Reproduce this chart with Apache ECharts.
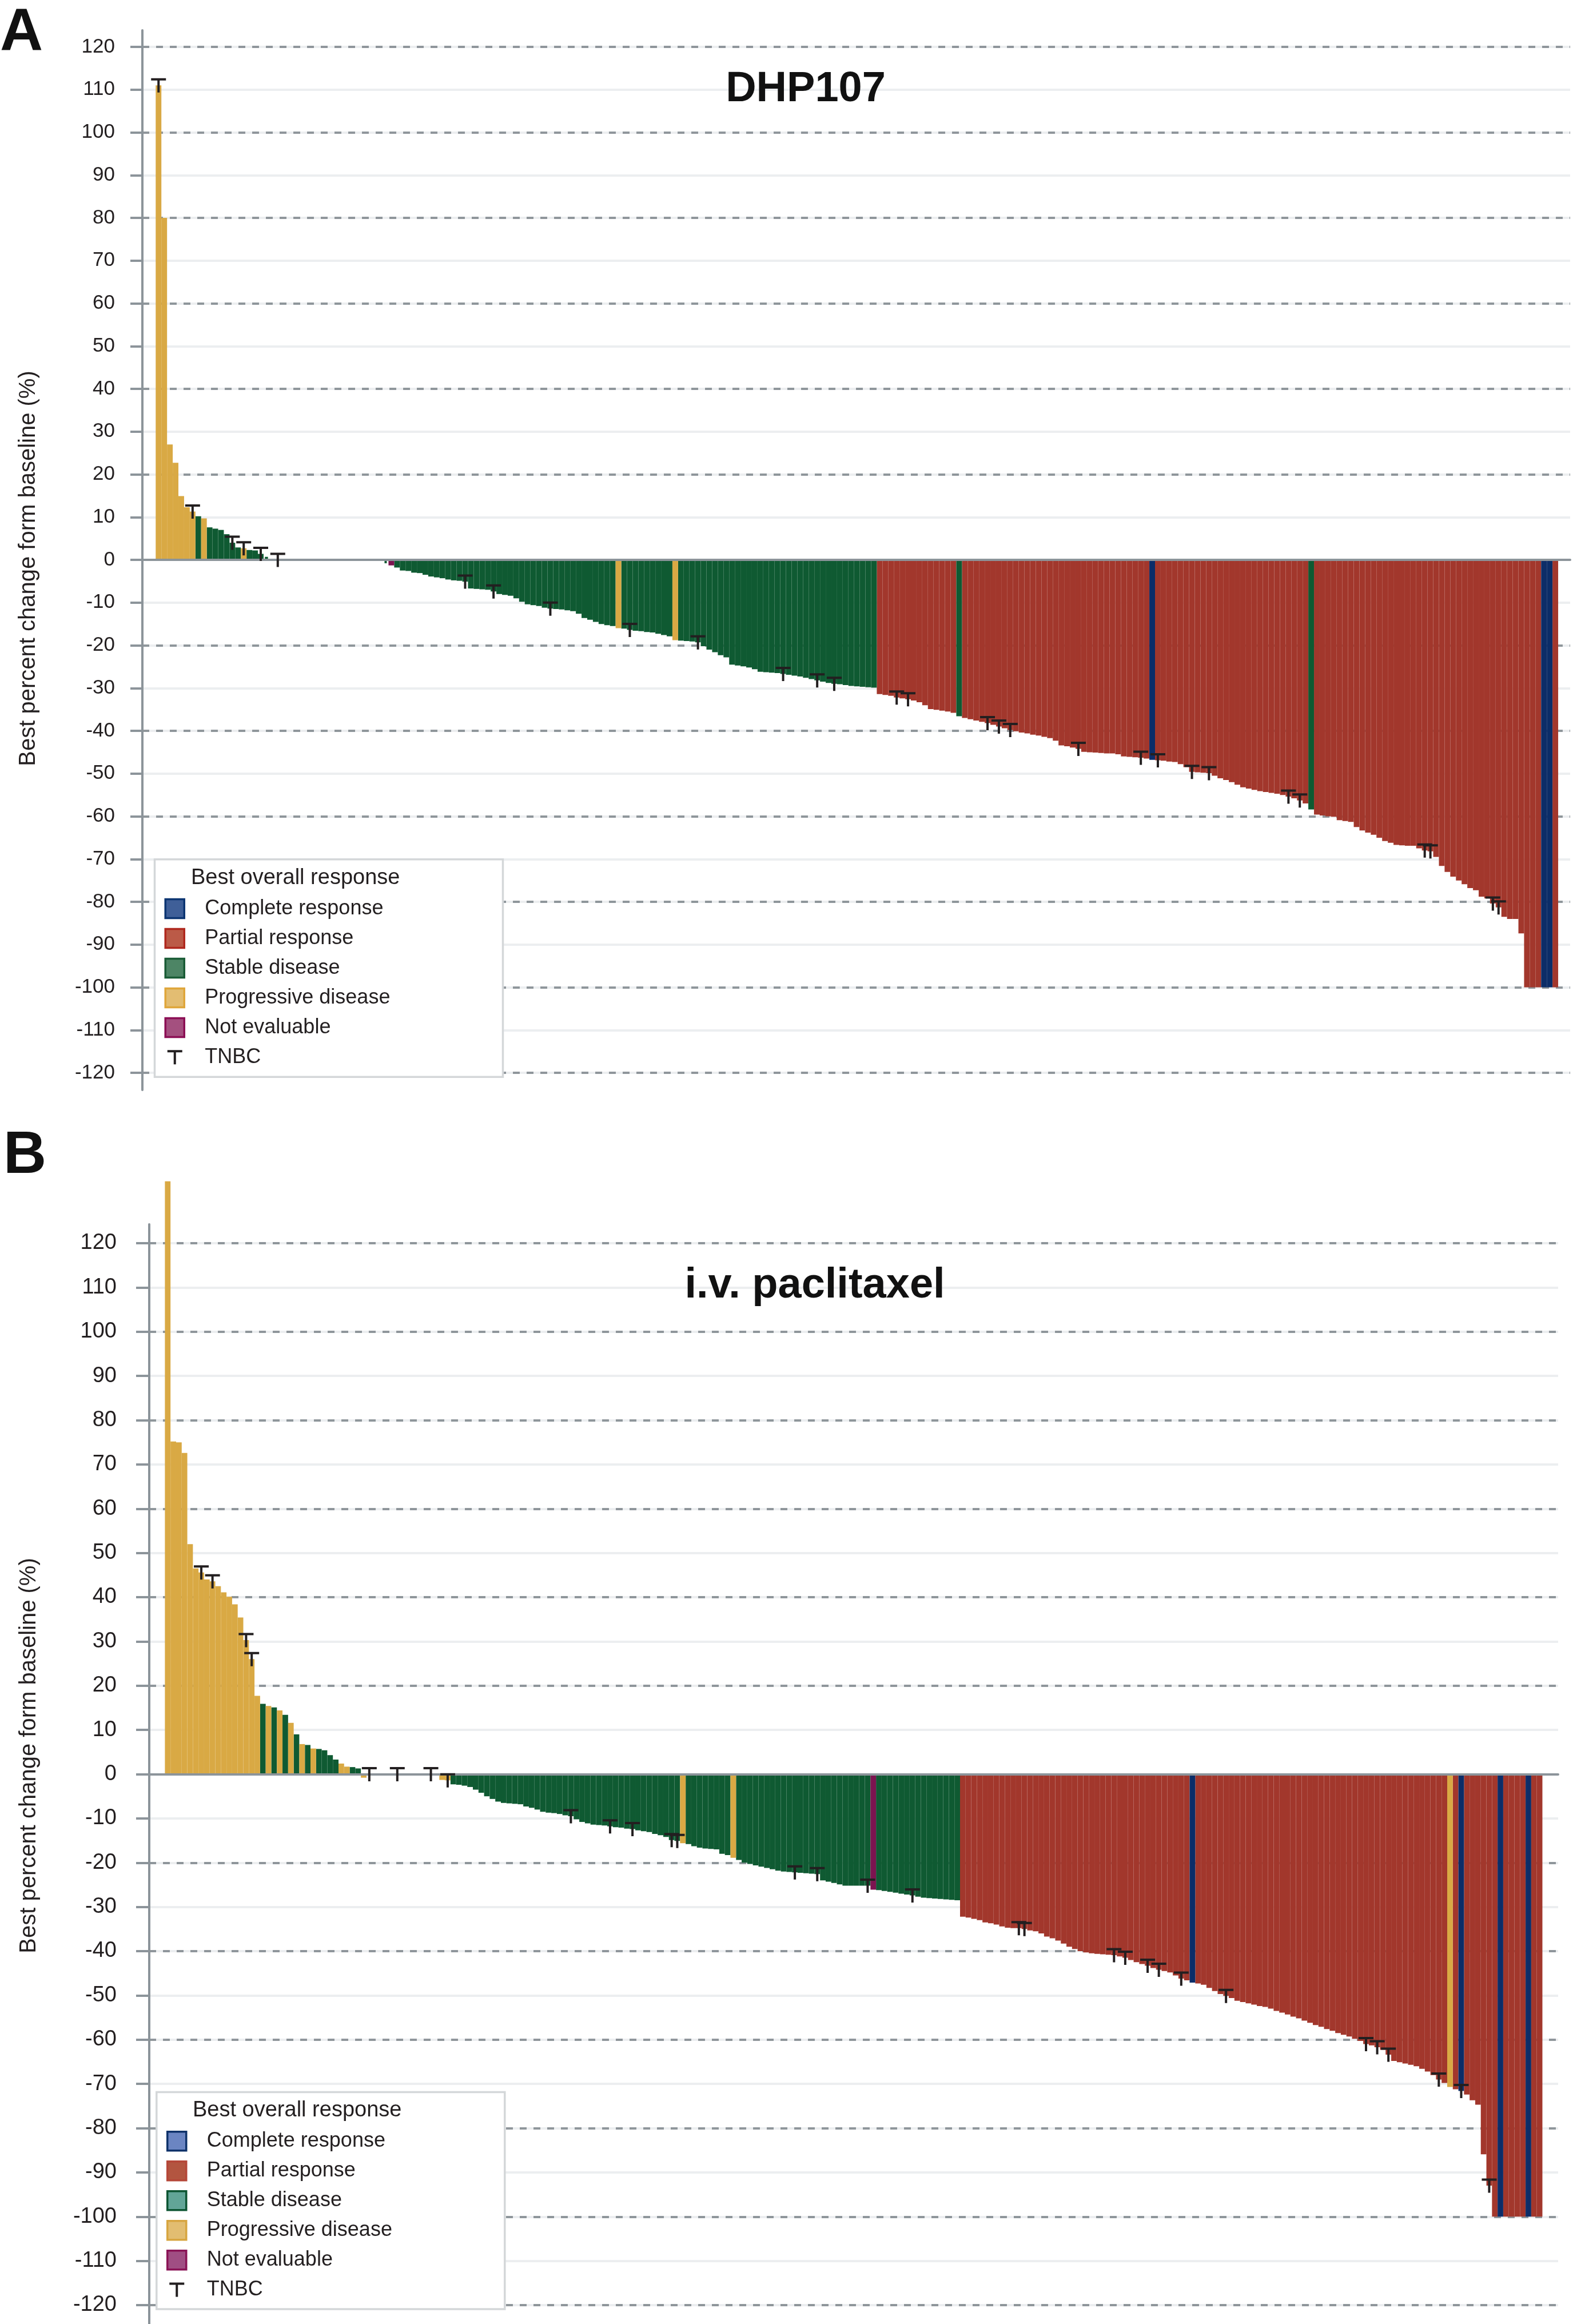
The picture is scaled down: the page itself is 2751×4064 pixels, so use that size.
<!DOCTYPE html>
<html>
<head>
<meta charset="utf-8">
<title>Best percent change from baseline</title>
<script src="https://cdn.jsdelivr.net/npm/echarts@6/dist/echarts.min.js"></script>
<style>
  html, body { margin: 0; padding: 0; background: #fff; }
  #waterfall { width: 2751px; height: 4064px; }
</style>
</head>
<body>
<div id="waterfall"></div>
<script>
// legend order of the response classes
var responseNames = ['Complete response', 'Partial response', 'Stable disease', 'Progressive disease', 'Not evaluable'];
var responseCodes = ['CR', 'PR', 'SD', 'PD', 'NE'];

// A: DHP107, best percent change per patient (sorted)
var dhpValues = [
  111, 80, 27.0, 22.7, 14.9, 12.3, 11.3, 10.2, 9.7, 7.6,
  7.3, 7.0, 6.0, 4.0, 2.9, 2.7, 2.3, 2.2, 1.4, 0.6,
  0, 0, 0, 0, 0, 0, 0, 0, 0, 0,
  0, 0, 0, 0, 0, 0, 0, 0, 0, 0,
  -0.8, -1.3, -1.8, -2.5, -2.6, -3.0, -3.1, -3.5, -3.9, -4.1,
  -4.3, -4.6, -4.8, -4.9, -5.1, -6.7, -6.8, -6.9, -7.0, -7.4,
  -8.0, -8.2, -8.4, -9.0, -9.8, -10.4, -10.6, -10.8, -11.2, -11.4,
  -11.5, -11.6, -11.8, -12.0, -12.6, -13.6, -14.0, -14.5, -15.0, -15.3,
  -15.5, -16.0, -16.1, -16.4, -16.6, -16.7, -16.9, -17.0, -17.3, -17.6,
  -17.9, -18.8, -18.9, -19.0, -19.1, -19.3, -20.2, -21.0, -21.6, -22.3,
  -22.8, -24.5, -24.7, -24.9, -25.2, -25.6, -26.2, -26.3, -26.4, -26.5,
  -26.7, -26.9, -27.1, -27.3, -27.6, -27.9, -28.2, -28.5, -28.8, -29.0,
  -29.1, -29.3, -29.5, -29.6, -29.7, -29.8, -29.9,
  -31.4, -31.6, -31.8,
  -32.2, -32.4, -32.6, -32.9, -33.3, -34.0, -34.9, -35.1, -35.3, -35.5,
  -35.8, -36.6, -37.0, -37.3, -37.6, -37.9, -38.2, -38.6, -39.0, -39.4,
  -39.8, -40.1, -40.4, -40.6, -40.9, -41.1, -41.4, -41.7, -42.3, -43.4,
  -43.6, -43.9, -44.2, -44.9, -45.0, -45.1, -45.2, -45.3, -45.3, -45.5,
  -46.0, -46.1, -46.2, -46.3, -46.5, -46.8, -46.9, -47.0, -47.2, -47.3,
  -47.8, -48.5, -49.6, -49.7, -49.8, -49.9, -50.5, -51.1, -51.5, -52.0,
  -52.6, -53.2, -53.5, -53.8, -54.1, -54.3, -54.5, -54.7, -55.0, -55.4,
  -55.8, -56.3, -57.0, -58.4, -59.6, -59.8, -60.0, -60.1, -60.9, -61.1,
  -61.3, -62.5, -63.3, -63.8, -64.3, -65.0, -65.8, -66.2, -66.7, -66.8,
  -66.9, -66.9, -67.5, -68.0, -68.2, -69.5, -71.6, -73.0, -74.1, -75.0,
  -75.9, -76.8, -77.3, -78.8, -79.2, -80.4, -81.3, -83.5, -84.0, -84.0,
  -87.4, -100, -100, -100, -100, -100, -100
];
// response of each bar, as [code, run length]
var dhpRuns = [
  ['PD', 7], ['SD', 1], ['PD', 1], ['SD', 6], ['PD', 1], ['SD', 25], ['NE', 1],
  ['SD', 39], ['PD', 1], ['SD', 9], ['PD', 1], ['SD', 35],
  ['PR', 14], ['SD', 1], ['PR', 33], ['CR', 1], ['PR', 27], ['SD', 1],
  ['PR', 40], ['CR', 2], ['PR', 1]
];
// patients (1-based bar number) with triple-negative breast cancer
var dhpTnbc = [1, 7, 14, 16, 19, 22, 55, 60, 70, 84, 96, 111, 117, 120, 131, 133,
  147, 149, 151, 163, 174, 177, 183, 186, 200, 202, 224, 225, 236, 237];

// B: i.v. paclitaxel
var ptxValues = [
  134, 75.2, 75.0, 72.6, 52.0, 46.5, 45.6, 44.0, 43.6, 42.5,
  41.1, 40.1, 38.4, 35.4, 30.3, 26.0, 17.7, 15.9, 15.4, 15.1,
  14.4, 13.4, 11.6, 9.0, 6.8, 6.6, 5.8, 5.7, 5.4, 4.3,
  3.3, 2.4, 1.7, 1.6, 1.3, -0.8, 0, 0, 0, 0,
  0, 0, 0, 0, 0, 0, 0, 0, 0, -1.3,
  -1.4, -2.3, -2.4, -2.6, -2.9, -3.5, -4.2, -5.0, -5.6, -6.2,
  -6.5, -6.6, -6.7, -6.8, -7.3, -7.6, -8.0, -8.5, -8.7, -8.8,
  -9.0, -9.3, -9.5, -10.2, -10.8, -11.1, -11.4, -11.5, -11.6, -11.8,
  -12.0, -12.1, -12.3, -12.4, -12.7, -12.9, -13.1, -13.5, -13.8, -14.2,
  -14.9, -15.1, -15.6, -15.8, -16.3, -16.6, -16.8, -16.9, -17.0, -18.0,
  -18.3, -18.9, -19.4, -20.0, -20.3, -20.6, -20.9, -21.2, -21.5, -21.8,
  -22.0, -22.1, -22.2, -22.3, -22.4, -22.5, -22.6, -24.0, -24.3, -24.6,
  -24.9, -25.2, -25.2, -25.2, -25.2, -25.2, -26.1, -26.2, -26.4, -26.6,
  -26.8, -27.0, -27.2, -27.4, -27.7, -27.9, -28.0, -28.1, -28.2, -28.3,
  -28.4, -28.5, -32.2, -32.4, -32.7, -33.0, -33.5, -33.7, -34.0, -34.4,
  -34.7, -34.8, -34.8, -35.0, -35.3, -35.5, -36.0, -36.7, -37.1, -37.6,
  -38.3, -39.0, -39.5, -40.0, -40.3, -40.5, -40.6, -40.7, -40.8, -40.9,
  -41.2, -41.5, -42.0, -42.5, -42.9, -43.3, -43.8, -44.2, -44.5, -44.8,
  -45.5, -46.2, -46.6, -47.1, -47.3, -47.6, -48.3, -49.0, -49.7, -50.1,
  -50.6, -51.2, -51.5, -51.8, -52.1, -52.4, -52.6, -53.0, -53.5, -53.9,
  -54.3, -54.8, -55.2, -55.7, -56.2, -56.7, -57.1, -57.6, -58.0, -58.5,
  -58.9, -59.3, -59.8, -60.3, -61.0, -61.3, -61.7, -62.3, -63.4, -64.8,
  -65.1, -65.4, -65.7, -66.0, -66.6, -67.2, -68.0, -69.0, -69.8, -70.7,
  -71.2, -71.6, -72.4, -73.7, -74.7, -85.9, -93.0, -100, -100, -100,
  -100, -100, -100, -100, -100, -100
];
var ptxRuns = [
  ['PD', 17], ['SD', 1], ['PD', 1], ['SD', 1], ['PD', 1], ['SD', 1], ['PD', 1],
  ['SD', 1], ['PD', 1], ['SD', 1], ['PD', 1], ['SD', 4], ['PD', 2], ['SD', 2],
  ['PD', 1], ['SD', 13], ['PD', 2], ['SD', 41], ['PD', 1], ['SD', 8], ['PD', 1],
  ['SD', 24], ['NE', 1], ['SD', 15], ['PR', 41], ['CR', 1], ['PR', 45], ['PD', 1],
  ['PR', 1], ['CR', 1], ['PR', 6], ['CR', 1], ['PR', 4], ['CR', 1], ['PR', 2]
];
var ptxTnbc = [7, 9, 15, 16, 37, 42, 48, 51, 73, 80, 84, 91, 92, 113, 117, 126, 134,
  153, 154, 170, 172, 176, 178, 182, 190, 215, 217, 219, 228, 232, 237];

var fontFamily = 'Liberation Sans, Arial, Helvetica, sans-serif';
var axisGray = '#8c949a';
var tPath = 'path://M0,0H26V4H15V25H11V4H0Z';
var tLegendPath = 'path://M-3.5,-4M29.5,29M0,0H26V4H15V25H11V4H0Z';

var barStyles = {
  PR: {color: '#b34b3d', borderColor: '#a2372c', borderWidth: 5},
  SD: {color: '#5e9f86', borderColor: '#0f5a32', borderWidth: 6},
  PD: {color: '#e7be68', borderColor: '#d9a944', borderWidth: 5},
  NE: {color: '#a8477e', borderColor: '#7c1450', borderWidth: 5},
  CR: {color: '#4c74be', borderColor: '#0c2d68', borderWidth: 5}
};

var legendColorsA = {
  CR: ['#3f5f98', '#0c3572'], PR: ['#bb5a47', '#b0281e'], SD: ['#4d8565', '#1a5c36'],
  PD: ['#e3bd72', '#dfa63b'], NE: ['#a4507f', '#8c0f55']
};
var legendColorsB = {
  CR: ['#6b85c2', '#0e326a'], PR: ['#b35540', '#b54738'], SD: ['#62a597', '#0d5532'],
  PD: ['#e2bd71', '#d7a540'], NE: ['#a04e83', '#8a1456']
};

function expandRuns(runs) {
  var out = [];
  runs.forEach(function (r) {
    for (var i = 0; i < r[1]; i++) out.push(r[0]);
  });
  return out;
}

function panelSeries(values, runs, tnbc, xIdx, yIdx, width) {
  var resp = expandRuns(runs);
  var drawOrder = ['PR', 'SD', 'PD', 'NE', 'CR'];
  var list = drawOrder.map(function (code) {
    return {
      name: responseNames[responseCodes.indexOf(code)],
      type: 'bar',
      xAxisIndex: xIdx,
      yAxisIndex: yIdx,
      barWidth: width,
      barGap: '-100%',
      clip: false,
      itemStyle: barStyles[code],
      data: values.map(function (v, i) {
        return [i + 1, (resp[i] === code && v !== 0) ? v : null];
      })
    };
  });
  list.push({
    name: 'TNBC',
    type: 'scatter',
    xAxisIndex: xIdx,
    yAxisIndex: yIdx,
    symbol: tPath,
    symbolSize: [26, 25],
    itemStyle: {color: '#231f20', opacity: 1},
    z: 4,
    data: tnbc.map(function (k) { return [k, values[k - 1]]; })
  });
  return list;
}

function legendFor(top, left, colors) {
  var data = responseCodes.map(function (code, c) {
    return {
      name: responseNames[c],
      icon: 'rect',
      itemStyle: {color: colors[code][0], borderColor: colors[code][1], borderWidth: 3.5}
    };
  });
  data.push({name: 'TNBC', icon: tLegendPath, itemStyle: {color: '#231f20', borderWidth: 0}});
  return {
    orient: 'vertical',
    left: left,
    top: top,
    padding: 0,
    itemWidth: 33,
    itemHeight: 33,
    itemGap: 15.5,
    selectedMode: false,
    z: 6,
    textStyle: {fontSize: 36, color: '#231f20', fontFamily: fontFamily, padding: [0, 0, 0, 31]},
    data: data
  };
}

function mainYAxis(grid, labelSize, labelMargin, tickLen) {
  return {
    type: 'value', gridIndex: grid, min: -120, max: 120, interval: 10,
    axisLine: {show: true, onZero: false, lineStyle: {color: axisGray, width: 4}},
    axisTick: {show: true, length: tickLen, lineStyle: {color: axisGray, width: 4}},
    axisLabel: {fontSize: labelSize, margin: labelMargin, color: '#231f20', fontFamily: fontFamily},
    splitLine: {show: true, lineStyle: {color: '#eceef0', width: 4}}
  };
}
function dashedYAxis(grid) {
  return {
    type: 'value', gridIndex: grid, min: -120, max: 120, interval: 20,
    axisLine: {show: false}, axisTick: {show: false}, axisLabel: {show: false},
    splitLine: {show: true, lineStyle: {color: '#8f969b', width: 4, type: [12, 12]}}
  };
}
function lineOnlyYAxis(grid) {
  return {
    type: 'value', gridIndex: grid, min: -1, max: 1,
    axisLine: {show: true, onZero: false, lineStyle: {color: axisGray, width: 4}},
    axisTick: {show: false}, axisLabel: {show: false}, splitLine: {show: false}
  };
}
function barXAxis(grid, min, max) {
  return {
    type: 'value', gridIndex: grid, min: min, max: max, z: 3,
    axisLine: {show: true, onZero: true, lineStyle: {color: axisGray, width: 4}},
    axisTick: {show: false}, axisLabel: {show: false}, splitLine: {show: false}
  };
}

var dom = document.getElementById('waterfall');
var myChart = echarts.init(dom, null, {renderer: 'canvas'});

var option = {
  backgroundColor: '#fff',
  animation: false,
  textStyle: {fontFamily: fontFamily},
  grid: [
    {left: 249, top: 82, width: 2497, height: 1794},
    {left: 249, top: 53, width: 2497, height: 1853},
    {left: 261, top: 2174, width: 2464, height: 1857},
    {left: 261, top: 2141, width: 2464, height: 1923}
  ],
  xAxis: [
    barXAxis(0, -1.846, 249.61),
    {type: 'value', gridIndex: 1, show: false},
    barXAxis(2, -2.298, 249.31),
    {type: 'value', gridIndex: 3, show: false}
  ],
  yAxis: [
    mainYAxis(0, 35, 48, 21),
    dashedYAxis(0),
    lineOnlyYAxis(1),
    mainYAxis(2, 38, 57, 23),
    dashedYAxis(2),
    lineOnlyYAxis(3)
  ],
  legend: [
    legendFor(1570.8, 287.5, legendColorsA),
    legendFor(3726, 291, legendColorsB)
  ],
  graphic: [
    {type: 'text', x: 0, y: 58, z: 5, style: {text: 'A', font: 'bold 104px ' + fontFamily, fill: '#111', verticalAlign: 'middle'}},
    {type: 'text', x: 6, y: 2022, z: 5, style: {text: 'B', font: 'bold 104px ' + fontFamily, fill: '#111', verticalAlign: 'middle'}},
    {type: 'text', x: 1409, y: 157, z: 5, style: {text: 'DHP107', font: 'bold 74px ' + fontFamily, fill: '#111', align: 'center', verticalAlign: 'middle'}},
    {type: 'text', x: 1425, y: 2249, z: 5, style: {text: 'i.v. paclitaxel', font: 'bold 74px ' + fontFamily, fill: '#111', align: 'center', verticalAlign: 'middle'}},
    {type: 'text', x: 50, y: 994, rotation: Math.PI / 2, z: 5, style: {text: 'Best percent change form baseline (%)', font: '40px ' + fontFamily, fill: '#231f20', align: 'center', verticalAlign: 'middle'}},
    {type: 'text', x: 51, y: 3070, rotation: Math.PI / 2, z: 5, style: {text: 'Best percent change form baseline (%)', font: '40px ' + fontFamily, fill: '#231f20', align: 'center', verticalAlign: 'middle'}},
    {type: 'rect', z: 3, shape: {x: 270.5, y: 1502.7, width: 609, height: 380.6}, style: {fill: '#fff', stroke: '#d4d7d9', lineWidth: 3.5}},
    {type: 'rect', z: 3, shape: {x: 273.8, y: 3658.6, width: 609, height: 379.4}, style: {fill: '#fff', stroke: '#d4d7d9', lineWidth: 3.5}},
    {type: 'text', x: 334, y: 1535.5, z: 5, style: {text: 'Best overall response', font: '38px ' + fontFamily, fill: '#231f20', verticalAlign: 'middle'}},
    {type: 'text', x: 337, y: 3691, z: 5, style: {text: 'Best overall response', font: '38px ' + fontFamily, fill: '#231f20', verticalAlign: 'middle'}}
  ],
  series: panelSeries(dhpValues, dhpRuns, dhpTnbc, 0, 0, 9.93)
    .concat(panelSeries(ptxValues, ptxRuns, ptxTnbc, 2, 3, 9.79))
};

if (option && typeof option === 'object') {
  myChart.setOption(option, true);
}
</script>
</body>
</html>
